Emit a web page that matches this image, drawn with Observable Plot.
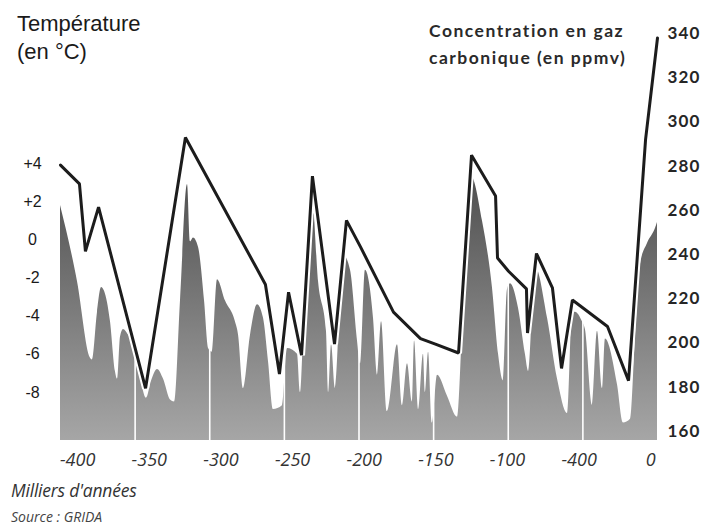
<!DOCTYPE html>
<html><head><meta charset="utf-8">
<script src="https://cdn.jsdelivr.net/npm/d3@7"></script>
<script src="https://cdn.jsdelivr.net/npm/@observablehq/plot@0.6"></script>
<style>
body{margin:0;background:#fff;}
#wrap{position:relative;width:705px;height:531px;overflow:hidden;}
#wrap svg{position:absolute;left:0;top:0;}
.t{position:absolute;white-space:nowrap;color:#1a1a1a;}
#tl{left:17px;top:10px;font:22px/28px "Liberation Sans",Arial,sans-serif;}
#tr{left:429px;top:17px;font:bold 17.5px/27px Lato,sans-serif;letter-spacing:1.5px;color:#2a2a2a;}
#xl{left:11px;top:480px;font:italic 17.5px/20px "Open Sans",sans-serif;color:#333;letter-spacing:-0.2px;}
#src{left:11px;top:509px;font:italic 14px/16px "Open Sans",sans-serif;color:#444;}
.raxis text{letter-spacing:1.2px;}
</style></head><body>
<div id="wrap">
<div class="t" id="tl">Température<br>(en °C)</div>
<div class="t" id="tr">Concentration en gaz<br>carbonique (en ppmv)</div>
<div class="t" id="xl">Milliers d'années</div>
<div class="t" id="src">Source : GRIDA</div>
</div>
<script>
// Temperature (°C, relative) — thousands of years
const tempYears = [-400,-388.6,-380,-378.6,-375.2,-372.5,-370.5,-366.5,-363.2,-361.8,-359.8,-357.8,-354.4,-350.4,-346.4,-342.4,-339,-335,-331,-326.3,-323.6,-319.6,-314.9,-312.9,-310.9,-307.5,-303.5,-300.8,-298.2,-294.8,-289.5,-282.8,-280.7,-277.4,-272.7,-268,-264,-260.6,-257.3,-251.3,-247.9,-241.2,-239.2,-237.2,-233.8,-231.2,-227.1,-221.8,-220.4,-218.4,-215.8,-210.4,-205.7,-201,-199,-195.7,-190.3,-187.6,-184.9,-180.9,-174.2,-170.9,-167.5,-164.2,-162.8,-160.1,-156.8,-155.5,-153.4,-150.8,-147.4,-140.7,-134,-130.7,-127.3,-124.6,-117.3,-110.6,-106.5,-103.2,-100.5,-98.5,-93.1,-88.5,-86.4,-81.8,-73.7,-67,-60.3,-57,-55,-50.3,-48.3,-43.6,-40.2,-36.9,-34.9,-26.8,-22.8,-18.1,-14.8,-11.4,-6.7,-1.3,0];
const tempValues = [1.8,-2.2,-6.2,-6.3,-3.8,-2.5,-2.7,-4.3,-6.9,-7.3,-5.1,-4.7,-5.0,-5.6,-7.2,-8.3,-7.4,-6.8,-7.3,-8.4,-8.5,-3.2,2.9,-0.1,0.1,-0.4,-3.2,-5.7,-5.9,-2.1,-3.2,-4.3,-5.0,-7.8,-5.0,-3.4,-4.1,-6.4,-8.9,-8.7,-5.7,-6.0,-8.0,-5.2,-1.1,2.2,-2.2,-4.8,-8.0,-5.5,-7.8,-0.8,-1.6,-5.3,-6.5,-1.6,-4.1,-7.1,-4.3,-9.0,-5.5,-8.7,-6.5,-8.5,-5.3,-8.9,-6.0,-8.0,-5.9,-9.6,-7.1,-8.2,-9.3,-4.8,0.5,3.3,1.0,-2.5,-6.0,-7.4,-2.6,-2.3,-3.6,-6.0,-6.9,-1.4,-4.1,-7.3,-9.1,-3.9,-3.8,-4.3,-4.7,-8.7,-4.8,-7.8,-5.2,-7.6,-9.6,-9.4,-5.2,-1.3,-0.2,0.6,0.9];

// CO2 concentration (ppmv)
const co2Years = [-400,-387.3,-383.3,-374.5,-343,-316.3,-262.7,-253.3,-247.2,-238.5,-231.2,-216.4,-208.4,-199,-176.9,-158.8,-148.8,-133.3,-124.6,-108.5,-107.2,-99.8,-87.8,-87.1,-81.1,-70.4,-64.3,-57,-33.5,-19.4,-8,0];
const co2Values = [280.5,272,241.5,261.5,179.5,293,226.5,186,223,194.5,275.5,199.5,255.5,243.5,214,202,199.5,195.5,285,266.5,238.5,232.5,224.5,204.5,240.5,225,188.5,219.5,207.5,183,292,338];

// Ticks
const tempTicks = [4,2,0,-2,-4,-6,-8];
const tempTickLabels = ["+4","+2","0","-2","-4","-6","-8"];
const co2Ticks = [160,180,200,220,240,260,280,300,320,340];
const xTicks = [-400,-350,-300,-250,-200,-150,-100,-50,0];
const xTickLabels = ["-400","-350","-300","-250","-200","-150","-100","-400","0"];
const gridYears = [-350,-300,-250,-200,-150,-100,-50];

// Scales
const yDomain = [-10.52, 10.97];
const co2Domain = [155.9, 341.4];
const co2ToT = d3.scaleLinear().domain(co2Domain).range(yDomain);
const labelShift = d3.scaleLinear().domain([-400, 0]).range([-388.5, -4.5]);

const temp = tempYears.map((x, i) => ({x, y: tempValues[i]}));
const co2 = co2Years.map((x, i) => ({x, y: co2ToT(co2Values[i])}));
const xLabelPos = xTicks.map(labelShift);
const xLabelMap = new Map(xLabelPos.map((p, i) => [p, xTickLabels[i]]));
const tLabelMap = new Map(tempTicks.map((t, i) => [t, tempTickLabels[i]]));

const gradient = (index, scales) => {
  const ns = "http://www.w3.org/2000/svg";
  const defs = document.createElementNS(ns, "defs");
  defs.innerHTML = `<linearGradient id="tg" gradientUnits="userSpaceOnUse" x1="0" x2="0" y1="${scales.y(3.5)}" y2="${scales.y(yDomain[0])}"><stop offset="0" stop-color="#4e4e4e"/><stop offset="1" stop-color="#a6a6a6"/></linearGradient>`;
  return defs;
};

const chart = Plot.plot({
  width: 705, height: 531,
  marginLeft: 60, marginRight: 48, marginTop: 30, marginBottom: 91,
  x: {domain: [-400, 0]},
  y: {domain: yDomain},
  style: {background: "transparent"},
  marks: [
    gradient,
    Plot.areaY(temp, {x: "x", y1: yDomain[0], y2: "y", curve: "monotone-x", fill: "url(#tg)"}),
    Plot.ruleX(gridYears, {stroke: "#fff", strokeWidth: 1.6}),
    Plot.line(co2, {x: "x", y: "y", stroke: "#fff", strokeWidth: 7, strokeLinejoin: "miter"}),
    Plot.line(co2, {x: "x", y: "y", stroke: "#1c1c1c", strokeWidth: 3, strokeLinejoin: "miter"}),
    Plot.axisY(tempTicks, {anchor: "left", tickSize: 0, tickPadding: 28, textAnchor: "middle", label: null,
      tickFormat: d => tLabelMap.get(d), fontSize: 16, fontFamily: "Liberation Sans, Arial, sans-serif", fill: "#1a1a1a"}),
    Plot.axisY(co2Ticks.map(co2ToT), {anchor: "right", tickSize: 0, tickPadding: 10, textAnchor: "start", label: null,
      className: "raxis",
      tickFormat: d => String(Math.round(co2ToT.invert(d))), fontSize: 17, fontWeight: "bold", fontFamily: "Lato, sans-serif", fill: "#262626"}),
    Plot.axisX(xLabelPos, {anchor: "bottom", tickSize: 0, tickPadding: 13, label: null,
      tickFormat: d => xLabelMap.get(d), fontSize: 18, fontStyle: "italic", fontFamily: "Open Sans, sans-serif", fill: "#333"})
  ]
});
document.getElementById("wrap").prepend(chart);
</script>
</body></html>
